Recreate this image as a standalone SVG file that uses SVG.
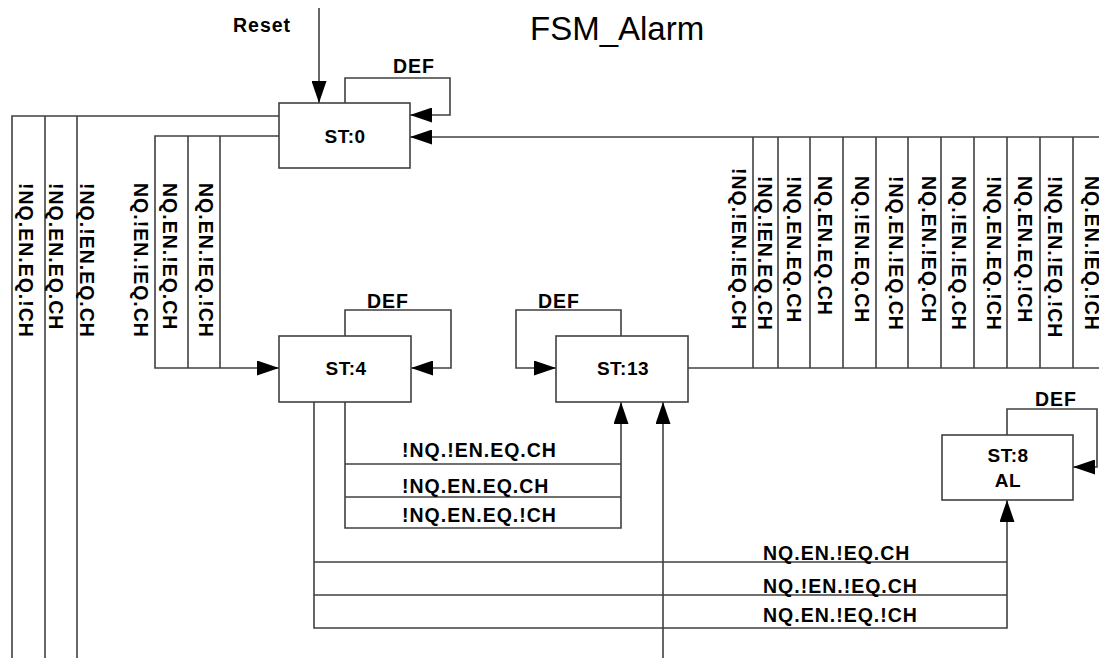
<svg xmlns="http://www.w3.org/2000/svg" width="1099" height="658" viewBox="0 0 1099 658">
<style>
.bg{fill:#fff}
.box{fill:#fff;stroke:#404040;stroke-width:1.6}
.ln{fill:none;stroke:#404040;stroke-width:1.6}
.t{font-family:"Liberation Sans",Arial,sans-serif;font-weight:bold;font-size:19.5px;letter-spacing:1px;fill:#000}
.c{text-anchor:middle;font-size:19px;letter-spacing:0.5px}
.title{font-family:"Liberation Sans",Arial,sans-serif;font-size:33px;fill:#000}
</style>
<defs>
<marker id="ah" markerWidth="22" markerHeight="15" refX="22" refY="7.5" orient="auto" markerUnits="userSpaceOnUse" viewBox="0 0 22 15">
<path d="M0,0 L22,7.5 L0,15 Z" fill="#000"/>
</marker>
</defs>
<rect class="bg" x="0" y="0" width="1099" height="658"/>
<text class="title" x="530" y="40">FSM_Alarm</text>

<g id="connectors">
<path class="ln" d="M319,8 V103" marker-end="url(#ah)"/>
<text class="t" x="233" y="32">Reset</text>
<!-- ST:0 self loop -->
<path class="ln" d="M345,103 V78 H450 V115 H410" marker-end="url(#ah)"/>
<text class="t" x="393" y="73">DEF</text>
<!-- into ST:0 from right -->
<path class="ln" d="M1099,137 H410" marker-end="url(#ah)"/>
<!-- ST:0 left exit long -->
<path class="ln" d="M279,116 H12 V658"/>
<path class="ln" d="M45,116 V658"/>
<path class="ln" d="M77,116 V658"/>
<text class="t" transform="translate(19,183) rotate(90)">!NQ.EN.EQ.!CH</text>
<text class="t" transform="translate(49,183) rotate(90)">!NQ.EN.EQ.CH</text>
<text class="t" transform="translate(80,183) rotate(90)">!NQ.!EN.EQ.CH</text>
<!-- ST:0 -> ST:4 -->
<path class="ln" d="M279,136 H155 V368 H279" marker-end="url(#ah)"/>
<path class="ln" d="M188,136 V368"/>
<path class="ln" d="M220,136 V368"/>
<text class="t" transform="translate(134,183) rotate(90)">NQ.!EN.!EQ.CH</text>
<text class="t" transform="translate(163,183) rotate(90)">NQ.EN.!EQ.CH</text>
<text class="t" transform="translate(199,183) rotate(90)">NQ.EN.!EQ.!CH</text>
<!-- ST:4 self loop -->
<path class="ln" d="M345,336 V310 H451 V368 H411" marker-end="url(#ah)"/>
<text class="t" x="367" y="308">DEF</text>
<!-- ST:13 self loop -->
<path class="ln" d="M621,336 V310 H516 V368 H556" marker-end="url(#ah)"/>
<text class="t" x="538" y="308">DEF</text>
<!-- ST:13 -> ST:0 bundle -->
<path class="ln" d="M688,368 H1099"/>
<path class="ln" d="M753,137 V368"/>
<path class="ln" d="M778,137 V368"/>
<path class="ln" d="M810,137 V368"/>
<path class="ln" d="M843,137 V368"/>
<path class="ln" d="M876,137 V368"/>
<path class="ln" d="M908,137 V368"/>
<path class="ln" d="M941,137 V368"/>
<path class="ln" d="M974,137 V368"/>
<path class="ln" d="M1007,137 V368"/>
<path class="ln" d="M1040,137 V368"/>
<path class="ln" d="M1073,137 V368"/>
<text class="t" transform="translate(732,168) rotate(90)">!NQ.!EN.!EQ.CH</text>
<text class="t" transform="translate(758,176) rotate(90)">!NQ.!EN.EQ.CH</text>
<text class="t" transform="translate(787,176) rotate(90)">!NQ.EN.EQ.CH</text>
<text class="t" transform="translate(818,176) rotate(90)">NQ.EN.EQ.CH</text>
<text class="t" transform="translate(855,176) rotate(90)">NQ.!EN.EQ.CH</text>
<text class="t" transform="translate(889,176) rotate(90)">!NQ.EN.!EQ.CH</text>
<text class="t" transform="translate(922,176) rotate(90)">NQ.EN.!EQ.CH</text>
<text class="t" transform="translate(952,176) rotate(90)">NQ.!EN.!EQ.CH</text>
<text class="t" transform="translate(987,176) rotate(90)">!NQ.EN.EQ.!CH</text>
<text class="t" transform="translate(1018,176) rotate(90)">NQ.EN.EQ.!CH</text>
<text class="t" transform="translate(1048,176) rotate(90)">!NQ.EN.!EQ.!CH</text>
<text class="t" transform="translate(1085,176) rotate(90)">NQ.EN.!EQ.!CH</text>
<!-- ST:4 -> ST:13 -->
<path class="ln" d="M345,402 V528 H621 V402" marker-end="url(#ah)"/>
<path class="ln" d="M345,464 H621"/>
<path class="ln" d="M345,497 H621"/>
<text class="t" x="402" y="457">!NQ.!EN.EQ.CH</text>
<text class="t" x="402" y="493">!NQ.EN.EQ.CH</text>
<text class="t" x="402" y="522">!NQ.EN.EQ.!CH</text>
<!-- into ST:13 from below -->
<path class="ln" d="M663,658 V402" marker-end="url(#ah)"/>
<!-- ST:4 -> ST:8 -->
<path class="ln" d="M314,402 V628 H1007 V500" marker-end="url(#ah)"/>
<path class="ln" d="M314,562 H1007"/>
<path class="ln" d="M314,595 H1007"/>
<text class="t" x="763" y="560">NQ.EN.!EQ.CH</text>
<text class="t" x="763" y="593">NQ.!EN.!EQ.CH</text>
<text class="t" x="763" y="622">NQ.EN.!EQ.!CH</text>
<!-- ST:8 self loop -->
<path class="ln" d="M1007,435 V409 H1097 V467 H1073" marker-end="url(#ah)"/>
<text class="t" x="1035" y="406">DEF</text>
</g>

<g id="st0">
<rect class="box" x="279" y="103" width="131" height="65"/>
<text class="t c" x="345" y="143">ST:0</text>
</g>
<g id="st4">
<rect class="box" x="279" y="336" width="132" height="66"/>
<text class="t c" x="346" y="375">ST:4</text>
</g>
<g id="st13">
<rect class="box" x="556" y="336" width="132" height="66"/>
<text class="t c" x="623" y="375">ST:13</text>
</g>
<g id="st8">
<rect class="box" x="942" y="435" width="131" height="65"/>
<text class="t c" x="1008" y="462">ST:8</text>
<text class="t c" x="1008" y="487">AL</text>
</g>
</svg>
